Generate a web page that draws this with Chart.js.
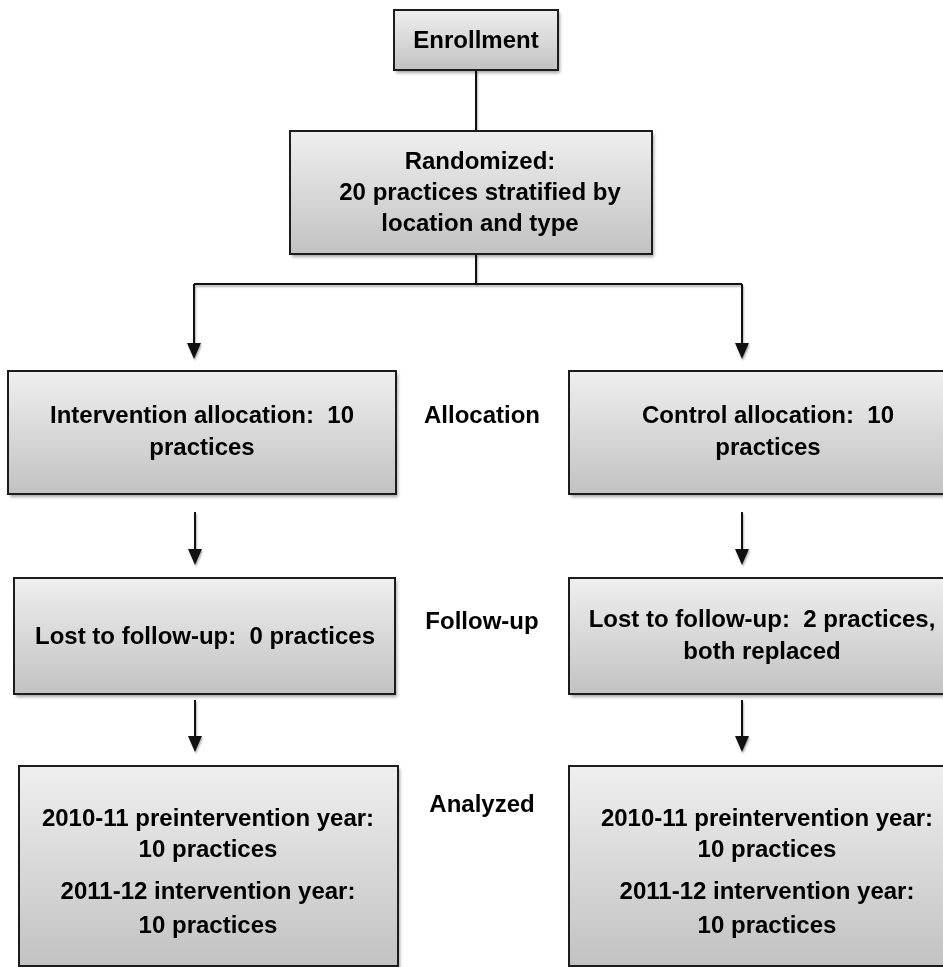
<!DOCTYPE html>
<html>
<head>
<meta charset="utf-8">
<script src="https://cdn.jsdelivr.net/npm/chart.js@4/dist/chart.umd.min.js"></script>
<style>
  html, body { margin: 0; padding: 0; background: #ffffff; }
  #c { display: block; }
</style>
</head>
<body>
<canvas id="c" width="943" height="967"></canvas>
<script>
// ---- Content (text of the flow diagram) ----
const enrollmentText = ['Enrollment'];
const randomizedText = ['Randomized:', '20 practices stratified by', 'location and type'];
const interventionAllocText = ['Intervention allocation:  10', 'practices'];
const controlAllocText = ['Control allocation:  10', 'practices'];
const interventionFollowText = ['Lost to follow-up:  0 practices'];
const controlFollowText = ['Lost to follow-up:  2 practices,', 'both replaced'];
const interventionAnalyzedText = ['2010-11 preintervention year:', '10 practices', '2011-12 intervention year:', '10 practices'];
const controlAnalyzedText = ['2010-11 preintervention year:', '10 practices', '2011-12 intervention year:', '10 practices'];
const stageLabels = ['Allocation', 'Follow-up', 'Analyzed'];

// ---- Layout (diagram coordinates, y downward) ----
const boxLayout = [
  { text: enrollmentText,           x0: 394, y0: 10,  x1: 558, y1: 70,  cx: 476, lines: [41] },
  { text: randomizedText,           x0: 290, y0: 131, x1: 652, y1: 254, cx: 480, lines: [162, 193, 224] },
  { text: interventionAllocText,    x0: 8,   y0: 371, x1: 396, y1: 494, cx: 202, lines: [416, 448] },
  { text: controlAllocText,         x0: 569, y0: 371, x1: 967, y1: 494, cx: 768, lines: [416, 448] },
  { text: interventionFollowText,   x0: 14,  y0: 578, x1: 395, y1: 694, cx: 205, lines: [637] },
  { text: controlFollowText,        x0: 569, y0: 578, x1: 967, y1: 694, cx: 762, lines: [620, 652] },
  { text: interventionAnalyzedText, x0: 19,  y0: 766, x1: 398, y1: 966, cx: 208, lines: [819, 850, 892, 926] },
  { text: controlAnalyzedText,      x0: 569, y0: 766, x1: 967, y1: 966, cx: 767, lines: [819, 850, 892, 926] }
];
const stageLayout = [
  { x: 482, y: 416 }, { x: 482, y: 622 }, { x: 482, y: 805 }
];
// connector segments: [x0, y0, x1, y1, arrowhead?]
const connectors = [
  [476, 70, 476, 131, false],
  [476, 254, 476, 284, false],
  [194, 284, 742, 284, false],
  [194, 284, 194, 359, true],
  [742, 284, 742, 359, true],
  [195, 512, 195, 565, true],
  [742, 512, 742, 565, true],
  [195, 700, 195, 752, true],
  [742, 700, 742, 752, true]
];

const FONT = 'bold 24px "Liberation Sans", Arial, sans-serif';

const flowPlugin = {
  id: 'flow',
  afterDraw(chart) {
    const ctx = chart.ctx;
    const sx = chart.scales.x, sy = chart.scales.y;
    const X = v => sx.getPixelForValue(v);
    const Y = v => sy.getPixelForValue(v);

    // connectors
    connectors.forEach(([a, b, c, d, arrow]) => {
      ctx.save();
      ctx.shadowColor = 'rgba(0,0,0,0.30)';
      ctx.shadowOffsetX = 1; ctx.shadowOffsetY = 2; ctx.shadowBlur = 2;
      ctx.strokeStyle = '#111';
      ctx.lineWidth = 2;
      ctx.beginPath();
      const endY = arrow ? Y(d) - 12 : Y(d);
      ctx.moveTo(X(a), Y(b));
      ctx.lineTo(X(c), endY);
      ctx.stroke();
      if (arrow) {
        ctx.fillStyle = '#111';
        ctx.beginPath();
        ctx.moveTo(X(c) - 7, Y(d) - 16);
        ctx.lineTo(X(c) + 7, Y(d) - 16);
        ctx.lineTo(X(c), Y(d));
        ctx.closePath();
        ctx.fill();
      }
      ctx.restore();
    });

    // boxes
    boxLayout.forEach(b => {
      const x0 = X(b.x0), y0 = Y(b.y0), x1 = X(b.x1), y1 = Y(b.y1);
      ctx.save();
      const g = ctx.createLinearGradient(0, y0, 0, y1);
      g.addColorStop(0, '#efefef');
      g.addColorStop(1, '#c2c2c2');
      ctx.shadowColor = 'rgba(0,0,0,0.35)';
      ctx.shadowOffsetX = 2; ctx.shadowOffsetY = 3; ctx.shadowBlur = 3;
      ctx.fillStyle = g;
      ctx.fillRect(x0, y0, x1 - x0, y1 - y0);
      ctx.shadowColor = 'transparent';
      ctx.strokeStyle = '#1c1c1c';
      ctx.lineWidth = 2;
      ctx.strokeRect(x0, y0, x1 - x0, y1 - y0);
      ctx.fillStyle = '#000';
      ctx.font = FONT;
      ctx.textAlign = 'center';
      ctx.textBaseline = 'middle';
      b.text.forEach((t, i) => ctx.fillText(t, X(b.cx), Y(b.lines[i])));
      ctx.restore();
    });

    // stage labels
    ctx.save();
    ctx.fillStyle = '#000';
    ctx.font = FONT;
    ctx.textAlign = 'center';
    ctx.textBaseline = 'middle';
    stageLabels.forEach((t, i) => ctx.fillText(t, X(stageLayout[i].x), Y(stageLayout[i].y)));
    ctx.restore();
  }
};

new Chart(document.getElementById('c'), {
  type: 'scatter',
  data: { datasets: [{ data: [], pointRadius: 0 }] },
  options: {
    responsive: false,
    animation: false,
    devicePixelRatio: 1,
    layout: { padding: 0 },
    plugins: { legend: { display: false }, tooltip: { enabled: false } },
    scales: {
      x: { type: 'linear', min: 0, max: 943, display: false },
      y: { type: 'linear', min: 0, max: 967, reverse: true, display: false }
    }
  },
  plugins: [flowPlugin]
});
</script>
</body>
</html>
